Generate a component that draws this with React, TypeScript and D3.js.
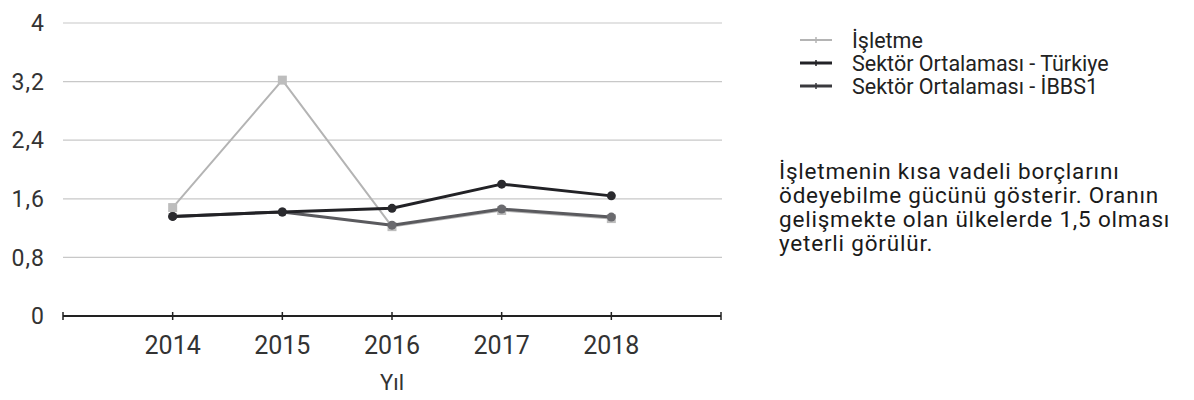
import React, { useEffect } from "react";
import * as d3 from "d3";

const years = [2014, 2015, 2016, 2017, 2018];
const isletme = [1.48, 3.22, 1.22, 1.44, 1.33];
const sektorTurkiye = [1.36, 1.42, 1.47, 1.8, 1.64];
const sektorIBBS1 = [1.36, 1.42, 1.24, 1.46, 1.35];
const yTicks = [0, 0.8, 1.6, 2.4, 3.2, 4];
const seriesNames = ["İşletme", "Sektör Ortalaması - Türkiye", "Sektör Ortalaması - İBBS1"];
const noteLines = [
  "İşletmenin kısa vadeli borçlarını",
  "ödeyebilme gücünü gösterir. Oranın",
  "gelişmekte olan ülkelerde 1,5 olması",
  "yeterli görülür.",
];
const xTitle = "Yıl";

const W = 1194;
const H = 400;
const FONT = "Roboto, 'Noto Sans', sans-serif";

export default function App() {
  useEffect(() => {
    document.body.style.margin = "0";
  }, []);

  const x = d3.scaleLinear().domain([2013, 2019]).range([63, 721]);
  const y = d3.scaleLinear().domain([0, 4]).range([316, 23]);
  const fmt = (v: number) => (v === 0 || v === 4 ? String(v) : v.toFixed(1).replace(".", ","));

  const series = [
    { name: seriesNames[0], values: isletme, color: "#b4b4b4", width: 2, marker: "square", mcolor: "#bdbdbd" },
    { name: seriesNames[2], values: sektorIBBS1, color: "#5a5a5e", width: 3, marker: "circle", mcolor: "#6a6a6e" },
    { name: seriesNames[1], values: sektorTurkiye, color: "#222226", width: 3, marker: "circle", mcolor: "#2a2a2e" },
  ];

  const line = d3
    .line<[number, number]>()
    .x((d) => x(d[0]))
    .y((d) => y(d[1]));

  const axisTicks = [2013, ...years, 2019];

  const legend = [
    { name: seriesNames[0], color: "#b4b4b4", width: 2 },
    { name: seriesNames[1], color: "#222226", width: 3 },
    { name: seriesNames[2], color: "#3a3a3e", width: 3 },
  ];

  return (
    <svg width={W} height={H} style={{ display: "block", background: "#fff" }} fontFamily={FONT}>
      {/* gridlines */}
      {yTicks.slice(1).map((t) => (
        <line key={t} x1={63} x2={722} y1={y(t)} y2={y(t)} stroke="#c8c8c8" strokeWidth={1.2} />
      ))}
      {/* y labels */}
      {yTicks.map((t) => (
        <text
          key={"yl" + t}
          x={45}
          y={y(t)}
          dy="0.36em"
          textAnchor="end"
          fontSize={23}
          letterSpacing={1}
          fill="#333"
        >
          {fmt(t)}
        </text>
      ))}
      {/* x axis */}
      <line x1={x(2013)} x2={x(2019)} y1={y(0)} y2={y(0)} stroke="#222" strokeWidth={2} />
      {axisTicks.map((t) => (
        <line key={"xt" + t} x1={x(t)} x2={x(t)} y1={y(0) - 4} y2={y(0) + 4} stroke="#222" strokeWidth={1.5} />
      ))}
      {years.map((t) => (
        <text key={"xl" + t} x={x(t)} y={y(0) + 38} textAnchor="middle" fontSize={25} fill="#333">
          {t}
        </text>
      ))}
      <text x={x(2016)} y={y(0) + 74} textAnchor="middle" fontSize={22} fill="#333">
        {xTitle}
      </text>
      {/* series */}
      {series.map((s) => {
        const pts: [number, number][] = years.map((yr, i) => [yr, s.values[i]]);
        return (
          <g key={s.name}>
            <path d={line(pts) || ""} fill="none" stroke={s.color} strokeWidth={s.width} strokeLinejoin="round" />
            {pts.map((p, i) =>
              s.marker === "square" ? (
                <rect key={i} x={x(p[0]) - 4.5} y={y(p[1]) - 4.5} width={9} height={9} fill={s.mcolor} />
              ) : (
                <circle key={i} cx={x(p[0])} cy={y(p[1])} r={4.5} fill={s.mcolor} />
              )
            )}
          </g>
        );
      })}
      {/* legend */}
      {legend.map((l, i) => {
        const cy = 40 + i * 23;
        return (
          <g key={l.name}>
            <line x1={800} x2={832} y1={cy} y2={cy} stroke={l.color} strokeWidth={l.width} />
            <line x1={816} x2={816} y1={cy - 3} y2={cy + 3} stroke={l.color} strokeWidth={1.5} />
            <text x={852} y={cy} dy="0.36em" fontSize={21.5} fill="#222">
              {l.name}
            </text>
          </g>
        );
      })}
      {/* note */}
      {noteLines.map((t, i) => (
        <text
          key={i}
          x={779}
          y={171 + i * 24}
          dy="0.36em"
          fontSize={22.5}
          letterSpacing={0.8}
          fill="#1a1a1a"
        >
          {t}
        </text>
      ))}
    </svg>
  );
}
